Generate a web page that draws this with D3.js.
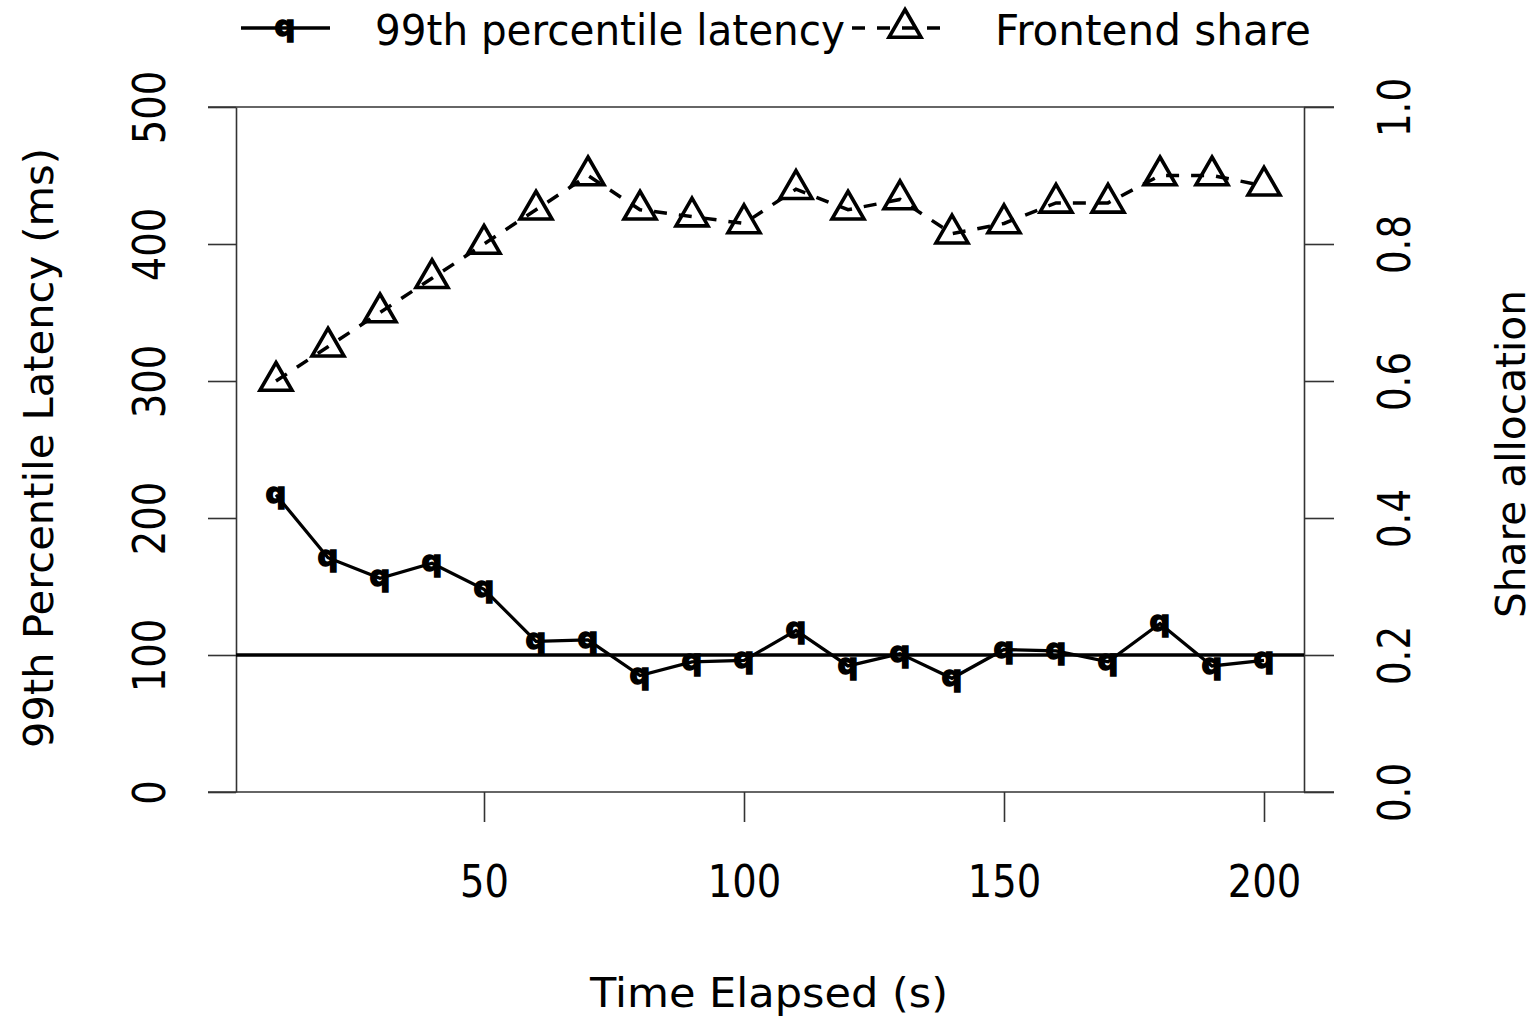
<!DOCTYPE html>
<html>
<head>
<meta charset="utf-8">
<script src="https://cdn.jsdelivr.net/npm/d3@7/dist/d3.min.js"></script>
<style>
  html, body { margin: 0; padding: 0; background: #fff; }
  svg { display: block; }
  text { font-family: "DejaVu Sans", sans-serif; fill: #000; }
</style>
</head>
<body>
<svg id="chart" width="1538" height="1024"></svg>
<script>
// ---- data ----
const times = [10,20,30,40,50,60,70,80,90,100,110,120,130,140,150,160,170,180,190,200];
const latency = [217,171,156,167,148,110,111,85,95,96,118,92,101,83,104,103,95,123,92,96];
const share = [0.60,0.65,0.70,0.75,0.80,0.85,0.90,0.85,0.84,0.83,0.88,0.85,0.865,0.815,0.83,0.86,0.86,0.90,0.90,0.885];
const xTicks = [50,100,150,200];
const yTicks = [0,100,200,300,400,500];
const y2Ticks = [0,0.2,0.4,0.6,0.8,1.0];
const targetLatency = 100;
const seriesNames = ["99th percentile latency", "Frontend share"];

// ---- layout ----
const svg = d3.select("#chart");
const pL = 236, pR = 1304, pT = 107, pB = 792;
const x = d3.scaleLinear().domain([50,200]).range([484,1264]);
const y = d3.scaleLinear().domain([0,500]).range([pB, pT]);
const y2 = d3.scaleLinear().domain([0,1]).range([pB, pT]);
const axisColor = "#333";

function digitsWidth(s) {
  let w = 0;
  for (const c of s) w += (c === ".") ? 10 : 24.5;
  return w;
}
function styleTickText(sel) {
  sel.style("font-size","44px").attr("font-family","DejaVu Sans").attr("fill","#000")
    .each(function(){ const t=d3.select(this); t.attr("textLength",digitsWidth(t.text())).attr("lengthAdjust","spacingAndGlyphs"); });
}

// frame lines (top & bottom)
svg.append("line").attr("x1",208).attr("x2",1334).attr("y1",pT).attr("y2",pT)
  .attr("stroke",axisColor).attr("stroke-width",1.6);
svg.append("line").attr("x1",208).attr("x2",1334).attr("y1",pB).attr("y2",pB)
  .attr("stroke",axisColor).attr("stroke-width",1.6);

// left axis
const gL = svg.append("g").attr("transform",`translate(${pL},0)`)
  .call(d3.axisLeft(y).tickValues(yTicks).tickSize(28).tickSizeOuter(0).tickFormat(d3.format("d")));
gL.select(".domain").attr("stroke",axisColor).attr("stroke-width",1.6);
gL.selectAll(".tick line").attr("stroke",axisColor).attr("stroke-width",1.6);
gL.selectAll(".tick text")
  .attr("transform","rotate(-90)").attr("x",0).attr("y",-71).attr("dy",0)
  .attr("text-anchor","middle").call(styleTickText);

// right axis
const gR = svg.append("g").attr("transform",`translate(${pR},0)`)
  .call(d3.axisRight(y2).tickValues(y2Ticks).tickSize(30).tickSizeOuter(0).tickFormat(d3.format(".1f")));
gR.select(".domain").attr("stroke",axisColor).attr("stroke-width",1.6);
gR.selectAll(".tick line").attr("stroke",axisColor).attr("stroke-width",1.6);
gR.selectAll(".tick text")
  .attr("transform","rotate(-90)").attr("x",0).attr("y",106).attr("dy",0)
  .attr("text-anchor","middle").call(styleTickText);

// bottom axis
const gB = svg.append("g").attr("transform",`translate(0,${pB})`)
  .call(d3.axisBottom(x).tickValues(xTicks).tickSize(30).tickSizeOuter(0).tickFormat(d3.format("d")));
gB.select(".domain").remove();
gB.selectAll(".tick line").attr("stroke",axisColor).attr("stroke-width",1.6);
gB.selectAll(".tick text").attr("y",105).attr("dy",0).call(styleTickText);

// axis titles
svg.append("text").attr("x",590).attr("y",1007).style("font-size","40px")
  .attr("textLength",358).attr("lengthAdjust","spacingAndGlyphs").text("Time Elapsed (s)");
svg.append("text").attr("transform","translate(53,448) rotate(-90)").attr("text-anchor","middle")
  .style("font-size","41px").attr("textLength",600).attr("lengthAdjust","spacingAndGlyphs")
  .text("99th Percentile Latency (ms)");
svg.append("text").attr("transform","translate(1525,454) rotate(-90)").attr("text-anchor","middle")
  .style("font-size","41px").attr("textLength",328).attr("lengthAdjust","spacingAndGlyphs")
  .text("Share allocation");

// reference line at target latency
svg.append("line").attr("x1",pL).attr("x2",pR)
  .attr("y1",y(targetLatency)).attr("y2",y(targetLatency))
  .attr("stroke","#000").attr("stroke-width",3.5);

// triangle path generator (R pch=2 geometry)
function triPath(cx, cy) {
  const r = 18.5, xc = 16;
  return `M${cx},${cy - r}L${cx + xc},${cy + r/2}L${cx - xc},${cy + r/2}Z`;
}

// share series (dashed, triangles)
const shareData = times.map((t,i)=>({t, v: share[i]}));
svg.append("path").datum(shareData)
  .attr("d", d3.line().x(d=>x(d.t)).y(d=>y2(d.v)))
  .attr("fill","none").attr("stroke","#000").attr("stroke-width",3.5)
  .attr("stroke-dasharray","13,12");
svg.selectAll(".tri").data(shareData).enter().append("path")
  .attr("d", d=>triPath(x(d.t), y2(d.v)))
  .attr("fill","none").attr("stroke","#000").attr("stroke-width",3.6).attr("stroke-linejoin","miter");

// latency series (solid, q markers)
const latData = times.map((t,i)=>({t, v: latency[i]}));
svg.append("path").datum(latData)
  .attr("d", d3.line().x(d=>x(d.t)).y(d=>y(d.v)))
  .attr("fill","none").attr("stroke","#000").attr("stroke-width",3.3);
svg.selectAll(".qm").data(latData).enter().append("text")
  .attr("x", d=>x(d.t)).attr("y", d=>y(d.v)+8)
  .attr("text-anchor","middle").style("font-size","29px").style("font-weight","bold")
  .attr("stroke","#000").attr("stroke-width",1.6)
  .text("q");

// legend
const lg = svg.append("g");
lg.append("line").attr("x1",241).attr("x2",330).attr("y1",28).attr("y2",28)
  .attr("stroke","#000").attr("stroke-width",3.3);
lg.append("text").attr("x",285).attr("y",36).attr("text-anchor","middle")
  .style("font-size","29px").style("font-weight","bold")
  .attr("stroke","#000").attr("stroke-width",1.6).text("q");
lg.append("text").attr("x",375).attr("y",45).style("font-size","42px")
  .attr("textLength",470).attr("lengthAdjust","spacingAndGlyphs").text(seriesNames[0]);
lg.append("line").attr("x1",852).attr("x2",950).attr("y1",28).attr("y2",28)
  .attr("stroke","#000").attr("stroke-width",3.5).attr("stroke-dasharray","13,12");
lg.append("path").attr("d", triPath(905, 28))
  .attr("fill","none").attr("stroke","#000").attr("stroke-width",3.6);
lg.append("text").attr("x",995).attr("y",45).style("font-size","42px")
  .attr("textLength",316).attr("lengthAdjust","spacingAndGlyphs").text(seriesNames[1]);
</script>
</body>
</html>
